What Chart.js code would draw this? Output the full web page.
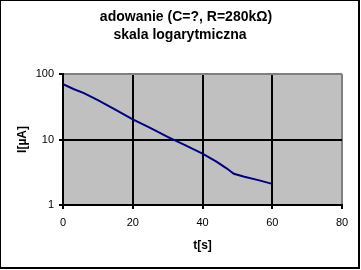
<!DOCTYPE html>
<html>
<head>
<meta charset="utf-8">
<style>
html,body{margin:0;padding:0;background:#fff;}
#wrap{width:361px;height:270px;position:relative;}
</style>
<script src="https://cdn.jsdelivr.net/npm/chart.js@4.4.1/dist/chart.umd.min.js"></script>
</head>
<body>
<div id="wrap"><canvas id="c" width="361" height="270"></canvas></div>
<script>
const titleLines = ["adowanie (C=?, R=280k\u03A9)", "skala logarytmiczna"];
const xTitle = "t[s]";
const yTitle = "I[\u00B5A]";
const timeS = [0, 3, 6, 10, 15, 20, 25, 30, 35, 40, 44, 47, 49, 52, 56, 60];
const currentUA = [70, 59, 51, 40, 28.5, 20.3, 15, 11, 8.2, 6.1, 4.6, 3.6, 3.0, 2.7, 2.4, 2.1];
const xTicks = [0, 20, 40, 60, 80];
const yTicks = [1, 10, 100];

const points = timeS.map((t, i) => ({x: t, y: currentUA[i]}));
const FONT = "'Liberation Sans', Arial, sans-serif";

const decor = {
  id: 'decor',
  beforeDraw(chart) {
    const {ctx, chartArea: a} = chart;
    ctx.save();
    ctx.fillStyle = '#ffffff';
    ctx.fillRect(0, 0, chart.width, chart.height);
    ctx.fillStyle = '#c0c0c0';
    ctx.fillRect(a.left, a.top, a.right - a.left, a.bottom - a.top);
    ctx.restore();
  },
  afterDraw(chart) {
    const {ctx} = chart;
    ctx.save();
    ctx.fillStyle = '#000';
    ctx.font = "bold 14px " + FONT;
    ctx.textAlign = 'center';
    ctx.textBaseline = 'middle';
    ctx.fillText(titleLines[0], 186, 17);
    ctx.fillText(titleLines[1], 180, 35);
    // outer frame
    ctx.fillRect(0, 0, 360, 1);
    ctx.fillRect(0, 0, 1, 269);
    ctx.fillRect(358, 0, 2, 269);
    ctx.fillRect(0, 267, 360, 2);
    ctx.restore();
  }
};

new Chart(document.getElementById('c'), {
  type: 'scatter',
  data: {
    datasets: [{
      data: points,
      showLine: true,
      borderColor: '#000080',
      backgroundColor: '#000080',
      borderWidth: 2,
      pointRadius: 0,
      tension: 0
    }]
  },
  options: {
    responsive: false,
    animation: false,
    devicePixelRatio: 1,
    layout: {padding: {top: 74, right: 19, left: 0, bottom: 0}},
    plugins: {legend: {display: false}, tooltip: {enabled: false}, title: {display: false}},
    scales: {
      x: {
        type: 'linear',
        min: 0, max: 80,
        afterBuildTicks: (axis) => { axis.ticks = xTicks.map(v => ({value: v})); },
        afterFit: (axis) => { axis.height = 65; },
        border: {color: '#000', width: 2},
        grid: {
          color: (c) => (c.tick && c.tick.value === 80) ? '#808080' : '#000',
          lineWidth: 2,
          tickColor: '#000',
          tickLength: 4,
          tickWidth: 2
        },
        ticks: {color: '#000', font: {family: FONT, size: 11}, padding: 7, maxRotation: 0},
        title: {display: true, text: xTitle, color: '#000', font: {family: FONT, size: 12, weight: 'bold'}, padding: {top: 4, bottom: 17}}
      },
      y: {
        type: 'logarithmic',
        min: 1, max: 100,
        afterBuildTicks: (axis) => { axis.ticks = yTicks.map(v => ({value: v})); },
        afterFit: (axis) => { axis.width = 63; },
        border: {color: '#000', width: 2},
        grid: {
          color: (c) => (c.tick && c.tick.value === 100) ? '#808080' : '#000',
          lineWidth: 2,
          tickColor: '#000',
          tickLength: 4,
          tickWidth: 2
        },
        ticks: {color: '#000', font: {family: FONT, size: 11}, padding: 5, callback: (v) => String(v)},
        title: {display: true, text: yTitle, color: '#000', font: {family: FONT, size: 12, weight: 'bold'}, padding: {top: 15, bottom: 4}}
      }
    }
  },
  plugins: [decor]
});
</script>
</body>
</html>
